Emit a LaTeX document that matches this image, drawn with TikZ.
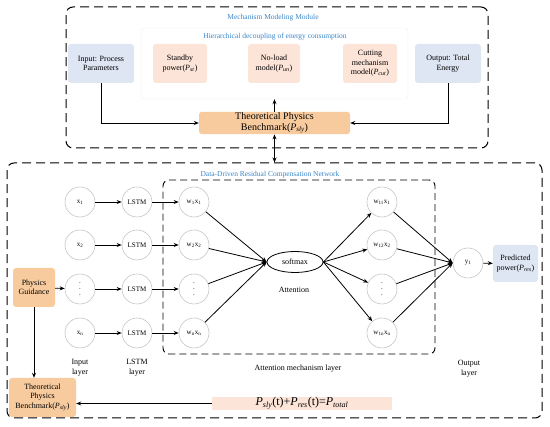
\documentclass[tikz,border=0pt]{standalone}
\usepackage{fontspec}
\setmainfont{Liberation Serif}
\usetikzlibrary{arrows.meta,shapes.geometric}
\definecolor{tblue}{HTML}{3A86C8}
\definecolor{lblue}{HTML}{DEE6F3}
\definecolor{lpink}{HTML}{FCE4D8}
\definecolor{orng}{HTML}{F8CB9E}
\definecolor{cgray}{HTML}{C4C4C4}
\definecolor{faint}{HTML}{FBEDE3}
\newcommand\ssb[1]{\textsubscript{#1}}
\newcommand\Pit[1]{\textit{P}\textsubscript{\textit{#1}}}
\begin{document}
\begin{tikzpicture}[x=1pt,y=-1pt,
  font=\fontsize{8}{9.5}\selectfont,
  dashbox/.style={draw, line width=1pt, dash pattern=on 9pt off 5pt, rounded corners=7pt},
  innerdash/.style={draw, line width=0.9pt, dash pattern=on 7pt off 4pt, rounded corners=6pt},
  bluebox/.style={fill=lblue, rounded corners=3pt, align=center, inner sep=1pt},
  pinkbox/.style={fill=lpink, rounded corners=3pt, align=center, inner sep=1pt},
  orbox/.style={fill=orng, rounded corners=3pt, align=center, inner sep=1pt},
  circ/.style={circle, draw=cgray, line width=0.6pt, minimum size=30pt, inner sep=0pt, font=\fontsize{7}{8}\selectfont},
  ttl/.style={text=tblue, font=\fontsize{7.5}{9}\selectfont},
  lbl/.style={align=center, font=\fontsize{8}{10}\selectfont},
  arr/.style={-{Stealth[length=5pt,width=4pt]}, line width=0.8pt},
  darr/.style={{Stealth[length=5pt,width=4pt]}-{Stealth[length=5pt,width=4pt]}, line width=0.8pt}]
\useasboundingbox (0,0) rectangle (550,427);
% ---------- top module ----------
\node[dashbox, minimum width=422pt, minimum height=141pt] (top) at (277,77.5) {};
\node[ttl] (toptitle) at (273,18) {Mechanism Modeling Module};
\node[draw=faint, fill=white, rounded corners=3pt, minimum width=267pt, minimum height=71pt] (hier) at (274.5,63.5) {};
\node[ttl] (hiertitle) at (275,37) {Hierarchical decoupling of energy consumption};
\node[pinkbox, minimum width=54pt, minimum height=39pt] (stand) at (180,63.5) {Standby\\power(\Pit{st})};
\node[pinkbox, minimum width=52pt, minimum height=39pt] (noload) at (274,63.5) {No-load\\model(\Pit{un})};
\node[pinkbox, minimum width=54pt, minimum height=39pt] (cut) at (370,63.5) {Cutting\\mechanism\\model(\Pit{cut})};
\node[bluebox, minimum width=66pt, minimum height=39pt] (inp) at (101,63.5) {Input: Process\\Parameters};
\node[bluebox, minimum width=66pt, minimum height=39pt] (outp) at (448,63.5) {Output: Total\\Energy};
\node[orbox, minimum width=151pt, minimum height=22pt, font=\fontsize{10}{10.5}\selectfont] (tpb) at (274.5,123) {Theoretical Physics\\Benchmark(\Pit{sly})};
\draw[arr] (inp.south) |- (tpb.west);
\draw[arr] (outp.south) |- (tpb.east);
\draw[arr] (tpb.north) -- (hier.south);
% ---------- bottom module ----------
\node[dashbox, minimum width=535pt, minimum height=255pt] (bot) at (274.5,290.5) {};
\draw[darr] (tpb.south) -- (tpb.south |- bot.north);
\node[ttl] (bottitle) at (270,175) {Data-Driven Residual Compensation Network};
\node[innerdash, minimum width=272pt, minimum height=174pt] (att) at (299,267) {};
% input column
\node[circ] (x1) at (80,202) {x\ssb{1}};
\node[circ] (x2) at (80,245) {x\ssb{2}};
\node[circ, align=center, font=\fontsize{7}{6}\selectfont] (x3) at (80,289) {.\\.\\.};
\node[circ] (xn) at (80,333) {x\ssb{n}};
% LSTM column
\node[circ] (l1) at (137,202) {LSTM};
\node[circ] (l2) at (137,245) {LSTM};
\node[circ] (l3) at (137,289) {LSTM};
\node[circ] (ln) at (137,333) {LSTM};
% weighted column
\node[circ] (w1) at (194,202) {w\ssb{1}x\ssb{1}};
\node[circ] (w2) at (194,245) {w\ssb{2}x\ssb{2}};
\node[circ, align=center, font=\fontsize{7}{6}\selectfont] (w3) at (194,289) {.\\.\\.};
\node[circ] (wn) at (194,333) {w\ssb{n}x\ssb{n}};
% softmax
\node[ellipse, draw, line width=0.8pt, minimum width=56pt, minimum height=21pt, inner sep=0pt] (sm) at (295,262) {softmax};
\node[lbl] (attlbl) at (294,290) {Attention};
% right weighted column
\node[circ] (v1) at (382,202) {w\ssb{11}x\ssb{1}};
\node[circ] (v2) at (382,245) {w\ssb{12}x\ssb{2}};
\node[circ, align=center, font=\fontsize{7}{6}\selectfont] (v3) at (382,289) {.\\.\\.};
\node[circ] (vn) at (382,333) {w\ssb{1n}x\ssb{n}};
% output
\node[circ] (y1) at (468,263) {y\ssb{1}};
\node[bluebox, minimum width=45pt, minimum height=37pt] (pred) at (515.5,263.5) {Predicted\\power(\Pit{res})};
% layer labels
\node[lbl] (inlbl) at (80,368) {Input\\layer};
\node[lbl] (lstmlbl) at (137,368) {LSTM\\layer};
\node[lbl] (attmlbl) at (298,369) {Attention mechanism layer};
\node[lbl] (outlbl) at (469,369) {Output\\layer};
% physics guidance
\node[orbox, minimum width=42pt, minimum height=39pt] (pg) at (34,287.5) {Physics\\Guidance};
\node[orbox, minimum width=67pt, minimum height=39pt] (tpb2) at (42.5,397.5) {Theoretical\\Physics\\Benchmark(\Pit{sly})};
\node[fill=lpink, minimum width=180pt, minimum height=13pt, inner sep=0pt, font=\fontsize{12}{12}\selectfont] (form) at (302,403.5) {\Pit{sly}(t)+\Pit{res}(t)=\Pit{total}};
% connectors
\foreach \a/\b in {x1/l1,x2/l2,x3/l3,xn/ln,l1/w1,l2/w2,l3/w3,ln/wn} \draw[arr] (\a) -- (\b);
\foreach \a in {w1,w2,w3,wn} \draw[arr] (\a) -- (sm.west);
\foreach \b in {v1,v2,v3,vn} \draw[arr] (sm.east) -- (\b);
\foreach \a in {v1,v2,v3,vn} \draw[arr] (\a) -- (y1.west);
\draw[arr] (y1) -- (pred);
\draw[arr] (pg) -- (x3);
\draw[arr] (pg.south) -- (tpb2.north -| pg.south);
\draw[arr] (form.west) -- (tpb2.east |- form.west);
\end{tikzpicture}
\end{document}
